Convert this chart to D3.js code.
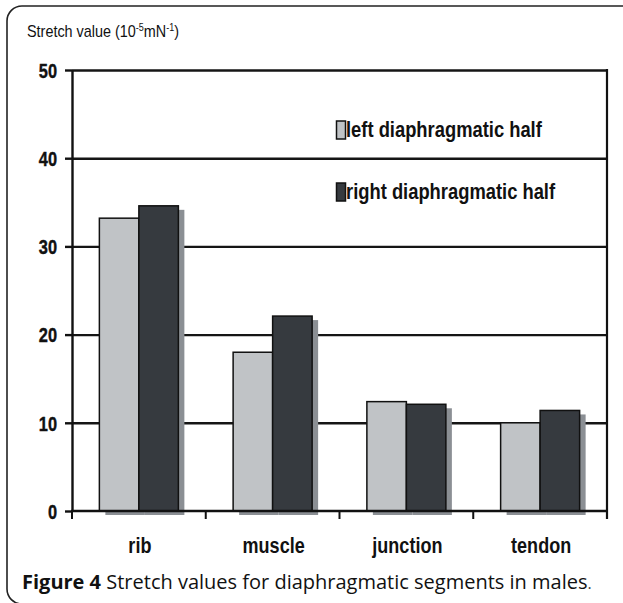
<!DOCTYPE html>
<html><head><meta charset="utf-8">
<script src="https://cdn.jsdelivr.net/npm/d3@7/dist/d3.min.js"></script>
<style>
html,body{margin:0;padding:0;background:#fff;}
svg{display:block;}
</style></head>
<body><svg id="c" width="623" height="603"></svg>
<script>
const categories = ["rib", "muscle", "junction", "tendon"];
const seriesNames = ["left diaphragmatic half", "right diaphragmatic half"];
const leftValues = [33.2, 18.0, 12.4, 10.0];
const rightValues = [34.6, 22.1, 12.1, 11.4];
const yTicks = [0, 10, 20, 30, 40, 50];
const colors = ["#c0c3c6", "#363a3f"];
const shadowColor = "#8b8f94";

const svg = d3.select("#c");
const L = 72, R = 607, T = 70, B = 511;
const narrow = 0.82;
const boldFont = "'Liberation Sans', Arial, sans-serif";

// frame
svg.append("rect").attr("x", 7).attr("y", 6).attr("width", 700).attr("height", 598)
  .attr("rx", 15).attr("fill", "none").attr("stroke", "#222").attr("stroke-width", 1.6);

const y = d3.scaleLinear().domain([0, 50]).range([B, T]);
const x0 = d3.scaleBand().domain(categories).range([L, R]);
const barW = 39.5;
const x1 = d3.scaleBand().domain([0, 1])
  .range([x0.bandwidth() / 2 - barW, x0.bandwidth() / 2 + barW]);

// gridlines (behind bars)
svg.append("g").attr("transform", `translate(${L},0)`)
  .call(d3.axisLeft(y).tickValues(yTicks.filter(t => t > 0)).tickSize(-(R - L)).tickFormat(""))
  .call(g => g.select(".domain").remove())
  .call(g => g.selectAll(".tick line").attr("stroke", "#151515").attr("stroke-width", 2.4));

// bars
const data = categories.map((c, i) => ({ c, v: [leftValues[i], rightValues[i]] }));
const grp = svg.append("g").selectAll("g").data(data).join("g")
  .attr("transform", d => `translate(${x0(d.c)},0)`);
grp.selectAll("rect.sh").data(d => d.v).join("rect").attr("class", "sh")
  .attr("x", (v, i) => x1(i) + 6).attr("y", v => y(v) + 4)
  .attr("width", barW).attr("height", v => B - y(v))
  .attr("fill", shadowColor);
grp.selectAll("rect.bar").data(d => d.v).join("rect").attr("class", "bar")
  .attr("x", (v, i) => x1(i)).attr("y", v => y(v))
  .attr("width", barW).attr("height", v => B - y(v))
  .attr("fill", (v, i) => colors[i]).attr("stroke", "#111").attr("stroke-width", 1.5);

// y axis
const ya = svg.append("g").attr("transform", `translate(${L},0)`)
  .call(d3.axisLeft(y).tickValues(yTicks).tickSize(7).tickPadding(8).tickSizeOuter(0));
ya.select(".domain").attr("stroke", "#111").attr("stroke-width", 2.4);
ya.selectAll(".tick line").attr("stroke", "#111").attr("stroke-width", 2.4);
ya.selectAll(".tick text").attr("fill", "#111").attr("font-family", boldFont)
  .attr("font-weight", "bold").attr("font-size", 20).attr("dy", "0.36em")
  .attr("stroke", "#111").attr("stroke-width", 0.4)
  .attr("transform", `translate(-15,0) scale(${narrow},1)`).attr("x", 0);

// right border
svg.append("line").attr("x1", R).attr("x2", R).attr("y1", T - 1).attr("y2", B + 8)
  .attr("stroke", "#111").attr("stroke-width", 2.2);

// x axis
const xTickPos = d3.range(categories.length + 1).map(i => L + i * x0.step());
svg.append("line").attr("x1", L - 1).attr("x2", R + 1).attr("y1", B).attr("y2", B)
  .attr("stroke", "#111").attr("stroke-width", 2.4);
svg.append("g").selectAll("line").data(xTickPos).join("line")
  .attr("x1", d => d).attr("x2", d => d).attr("y1", B).attr("y2", B + 8)
  .attr("stroke", "#111").attr("stroke-width", 2);
svg.append("g").selectAll("text").data(categories).join("text")
  .attr("transform", d => `translate(${x0(d) + x0.bandwidth() / 2 + 1},553) scale(${narrow},1)`)
  .attr("text-anchor", "middle").attr("font-family", boldFont).attr("font-weight", "bold")
  .attr("font-size", 22).attr("fill", "#111").text(d => d);

// legend
const leg = svg.append("g").selectAll("g").data(seriesNames).join("g")
  .attr("transform", (d, i) => `translate(336,${121 + i * 62})`);
leg.append("rect").attr("width", 9).attr("height", 18).attr("x", 0.5).attr("y", 0)
  .attr("fill", (d, i) => colors[i]).attr("stroke", "#111").attr("stroke-width", 1.5);
leg.append("text").attr("transform", `translate(10,16) scale(0.835,1)`)
  .attr("font-family", boldFont).attr("font-weight", "bold").attr("font-size", 22)
  .attr("fill", "#111").text(d => d);

// y title
const yt = svg.append("text").attr("transform", `translate(27,37) scale(0.9,1)`)
  .attr("font-family", "'Liberation Sans', Arial, sans-serif").attr("font-size", 16).attr("fill", "#111");
yt.append("tspan").text("Stretch value (10");
yt.append("tspan").attr("font-size", 10).attr("dy", -6).text("-5");
yt.append("tspan").attr("dy", 6).text("mN");
yt.append("tspan").attr("font-size", 10).attr("dy", -6).text("-1");
yt.append("tspan").attr("dy", 6).text(")");

// caption
const cap = svg.append("text").attr("x", 22).attr("y", 589)
  .attr("font-family", "'Open Sans', 'Noto Sans', sans-serif").attr("font-size", 20).attr("fill", "#111");
cap.append("tspan").attr("font-weight", "bold").text("Figure 4");
cap.append("tspan").text(" Stretch values for diaphragmatic segments in males");
cap.append("tspan").attr("font-size", 16).attr("fill", "#444").text(".");
</script></body></html>
